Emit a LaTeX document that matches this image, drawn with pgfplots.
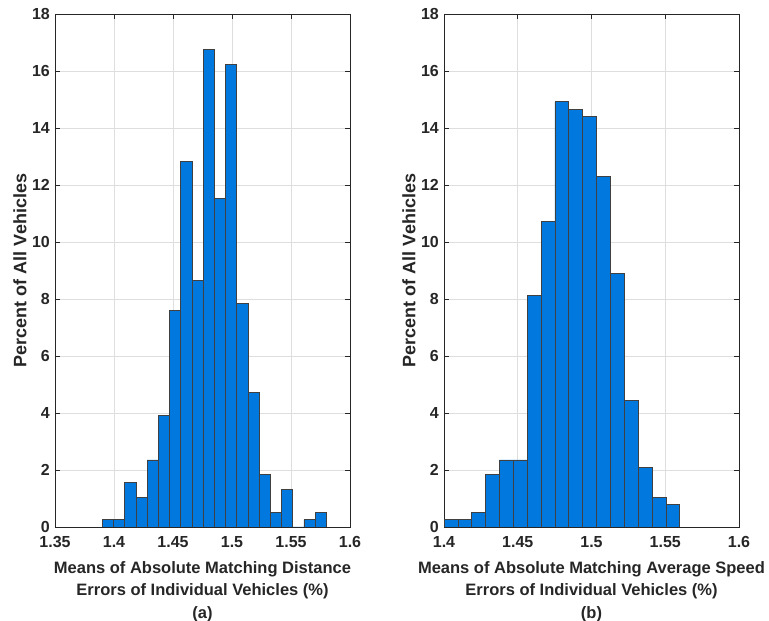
\documentclass[border=0pt]{standalone}
\usepackage{pgfplots}
\pgfplotsset{compat=1.18}
\usepackage{fontspec}
\setmainfont{Liberation Sans}

\definecolor{barblue}{RGB}{0,120,222}
\definecolor{axisgray}{RGB}{38,38,38}

% Histogram bins: left edge and percent of vehicles (last row closes the final bin)
\pgfplotstableread{
edge   pct
1.3900 0.2618
1.3995 0.2618
1.4090 1.5707
1.4185 1.0471
1.4280 2.3560
1.4375 3.9267
1.4470 7.5916
1.4565 12.8272
1.4660 8.6387
1.4755 16.7539
1.4850 11.5183
1.4945 16.2304
1.5040 7.8534
1.5135 4.7120
1.5230 1.8325
1.5325 0.5236
1.5420 1.3089
1.5515 0
1.5610 0.2618
1.5705 0.5236
1.5800 0
}\distdata

\pgfplotstableread{
edge   pct
1.4000 0.2618
1.4094 0.2618
1.4188 0.5236
1.4282 1.8325
1.4376 2.3560
1.4470 2.3560
1.4564 8.1152
1.4658 10.7330
1.4752 14.9215
1.4846 14.6597
1.4940 14.3979
1.5034 12.3037
1.5128 8.9005
1.5222 4.4503
1.5316 2.0942
1.5410 1.0471
1.5504 0.7853
1.5598 0
}\speeddata

\pgfplotsset{
  histaxis/.style={
    scale only axis,
    width=295pt, height=513pt,
    anchor=south west,
    ymin=0, ymax=18,
    ytick={0,2,...,18},
    grid=major,
    major grid style={black!13, line width=0.6pt},
    axis line style={axisgray, line width=0.8pt},
    tick align=inside,
    major tick length=5pt,
    tick style={axisgray, line width=0.8pt},
    /pgf/number format/assume math mode=true,
    ticklabel style={font=\fontsize{16}{18}\selectfont\bfseries, text=axisgray, inner sep=0pt},
    xticklabel style={anchor=base, yshift=-21pt},
    yticklabel style={anchor=east, xshift=-5pt},
    ylabel={Percent of All Vehicles},
    ylabel style={font=\fontsize{18}{20}\selectfont\bfseries, text=axisgray,
      at={(axis description cs:-0.119,0.5)}, anchor=center, inner sep=0pt},
    xlabel style={font=\fontsize{16.5}{22.5}\selectfont\bfseries, text=axisgray, align=center,
      at={(axis description cs:0.5,0)}, anchor=north, yshift=-34pt, inner sep=0pt},
  },
  histbars/.style={ybar interval, fill=barblue, draw=black!75, line width=0.6pt},
}

\begin{document}
\begin{tikzpicture}[x=1pt,y=1pt]
\path[use as bounding box] (0,0) rectangle (769,621);

\begin{axis}[histaxis, at={(55pt,94pt)},
  xmin=1.35, xmax=1.6,
  xtick={1.35,1.4,1.45,1.5,1.55,1.6},
  xticklabels={1.35,1.4,1.45,1.5,1.55,1.6},
  xlabel={Means of Absolute Matching Distance\\Errors of Individual Vehicles (\%)\\(a)}]
\addplot[histbars] table[x=edge, y=pct] {\distdata};
\end{axis}

\begin{axis}[histaxis, at={(444pt,94pt)},
  xmin=1.4, xmax=1.6,
  xtick={1.4,1.45,1.5,1.55,1.6},
  xticklabels={1.4,1.45,1.5,1.55,1.6},
  xlabel={Means of Absolute Matching Average Speed\\Errors of Individual Vehicles (\%)\\(b)}]
\addplot[histbars] table[x=edge, y=pct] {\speeddata};
\end{axis}
\end{tikzpicture}
\end{document}
